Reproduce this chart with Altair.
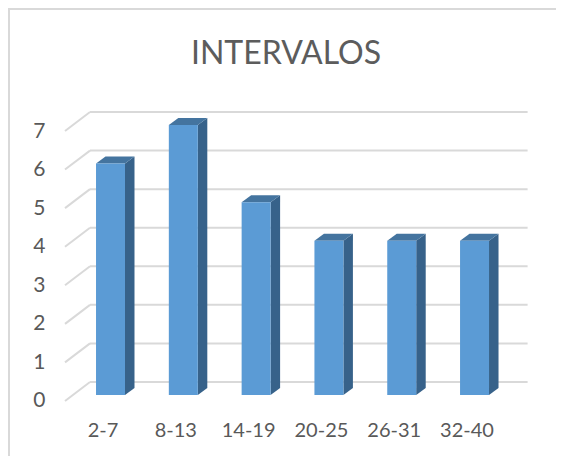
import altair as alt
import pandas as pd

categories = ["2-7", "8-13", "14-19", "20-25", "26-31", "32-40"]
values = [6, 7, 5, 4, 4, 4]
ticks = [0, 1, 2, 3, 4, 5, 6, 7]

# depth of the bars and of the wall, in data units
HALF = 0.199
BAR_DX, BAR_DY = 0.1305, 0.1815
WALL_DY = 0.337
LEFT, WALL_L, WALL_R = -0.625, -0.2816, 5.729
FRONT_DY = -0.155

W, H = 548, 448
x_scale = alt.Scale(domain=[-1.408, 6.119], nice=False, zero=False)
y_scale = alt.Scale(domain=[-1.582, 10.034], nice=False, zero=False)

front, side, top, wall, diag = [], [], [], [], []
for i, v in enumerate(values):
    l, r = i - HALF, i + HALF
    front.append(dict(x=l, x2=r, y=0, y2=v))
    side.append(dict(b=i, x=r, y=v, y2=0))
    side.append(dict(b=i, x=r + BAR_DX, y=v + BAR_DY, y2=BAR_DY))
    top.append(dict(b=i, y=v, x=l, x2=r))
    top.append(dict(b=i, y=v + BAR_DY, x=l + BAR_DX, x2=r + BAR_DX))
for t in ticks:
    wall.append(dict(x=WALL_L, x2=WALL_R, y=t + WALL_DY))
    diag.append(dict(t=t, x=LEFT, y=t + FRONT_DY))
    diag.append(dict(t=t, x=WALL_L, y=t + WALL_DY))

X = lambda **k: alt.X("x:Q", scale=x_scale, title=None, **k)
Y = lambda **k: alt.Y("y:Q", scale=y_scale, title=None, stack=None, **k)
GRID = "#d9d9d9"

label_expr = "[" + ",".join(f"'{c}'" for c in categories) + "][datum.value]"
axes = alt.Chart(pd.DataFrame({"x": [0], "y": [0]})).mark_point(opacity=0).encode(
    alt.X("x:Q", scale=x_scale, axis=alt.Axis(
        values=list(range(len(categories))), labelExpr=label_expr, title=None, grid=False,
        ticks=False, domain=False, labelFontSize=20, labelColor="#595959", labelFont="Lato",
        labelPadding=0, offset=-26, labelOffset=-8, labelBaseline="middle", labelOverlap=False,
        orient="bottom")),
    alt.Y("y:Q", scale=y_scale, axis=alt.Axis(
        values=ticks, format="d", title=None, grid=False, ticks=False, domain=False,
        labelFontSize=21, labelColor="#595959", labelFont="Lato", labelPadding=0,
        offset=-37, labelOffset=6, labelOverlap=False, orient="left")),
)

grid = alt.Chart(pd.DataFrame(wall)).mark_rule(color=GRID, strokeWidth=2).encode(
    X(), x2="x2:Q", y=Y())
diagonals = alt.Chart(pd.DataFrame(diag)).mark_line(color=GRID, strokeWidth=2).encode(
    X(), Y(), detail="t:N")
front_face = alt.Chart(pd.DataFrame(front)).mark_rect(color="#5b9bd5").encode(
    X(), x2="x2:Q", y=Y(), y2="y2:Q")
side_face = alt.Chart(pd.DataFrame(side)).mark_area(color="#37628a", orient="vertical").encode(
    X(), Y(), y2="y2:Q", detail="b:N")
top_face = alt.Chart(pd.DataFrame(top)).mark_area(color="#44749f", orient="horizontal").encode(
    alt.X("x:Q", scale=x_scale, title=None, stack=None), alt.Y("y:Q", scale=y_scale, title=None),
    x2="x2:Q", detail="b:N")

# chart frame: top and left edges
frame_top = alt.Chart(pd.DataFrame({"v": [1]})).mark_rule(color=GRID, strokeWidth=2).encode(
    x=alt.value(0), x2=alt.value(W), y=alt.value(1))
frame_left = alt.Chart(pd.DataFrame({"v": [1]})).mark_rule(color=GRID, strokeWidth=2).encode(
    y=alt.value(0), y2=alt.value(H), x=alt.value(1))

chart = alt.layer(
    axes, frame_top, frame_left, grid, diagonals, side_face, top_face, front_face
).resolve_scale(x="shared", y="shared").properties(
    width=W, height=H, padding=0, autosize=alt.AutoSizeParams(type="none"),
    title=alt.TitleParams("INTERVALOS", font="Lato", fontSize=32, fontWeight="normal",
                          color="#5c5c5c", anchor="middle", offset=0, dy=64, dx=4),
).configure_view(stroke=None)

chart.save("out.html", embed_options={"renderer": "svg", "actions": False})
